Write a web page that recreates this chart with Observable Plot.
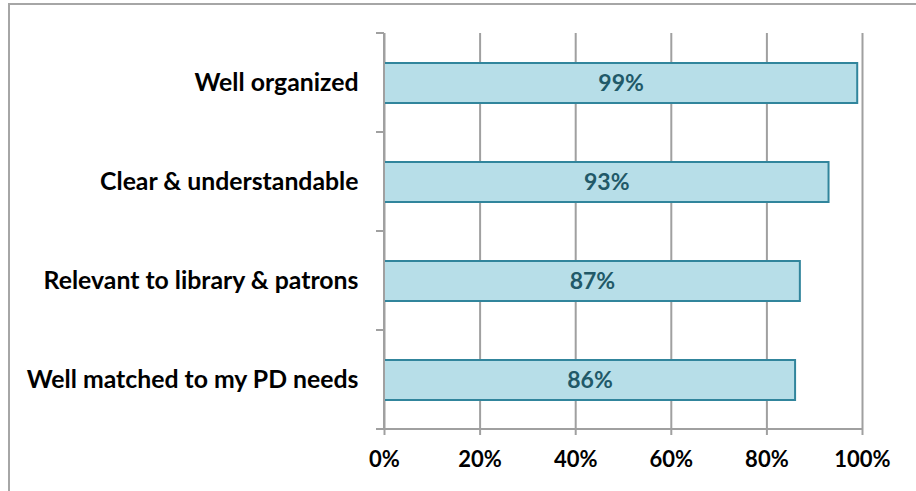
<!DOCTYPE html>
<html><head><meta charset="utf-8">
<script src="https://cdn.jsdelivr.net/npm/d3@7"></script>
<script src="https://cdn.jsdelivr.net/npm/@observablehq/plot@0.6"></script>
<style>
body{margin:0;background:#fff;}
#frame{position:absolute;left:8px;top:3px;width:1000px;height:600px;border:2px solid #a6a6a6;}
#chart{position:absolute;left:0;top:0;}
</style></head>
<body><div id="frame"></div><div id="chart"></div>
<script>
const categories = ["Well organized", "Clear & understandable", "Relevant to library & patrons", "Well matched to my PD needs"];
const values = [0.99, 0.93, 0.87, 0.86];
const xTicks = [0, 0.2, 0.4, 0.6, 0.8, 1];

const data = categories.map((c, i) => ({category: c, value: values[i]}));
const grid = "#a0a0a0";
const pct = d3.format(".0%");

function categoryAxis(index, scales, values, dims) {
  const g = d3.create("svg:g").attr("stroke", grid).attr("stroke-width", 2);
  const x0 = scales.x(0), x1 = scales.x(1);
  const top = dims.marginTop, bottom = dims.height - dims.marginBottom;
  const n = categories.length, step = (bottom - top) / n;
  g.append("line").attr("x1", x0).attr("x2", x0).attr("y1", top).attr("y2", bottom);
  g.append("line").attr("x1", x0 - 8).attr("x2", x1).attr("y1", bottom).attr("y2", bottom);
  for (let i = 0; i < n; i++) {
    const yy = top + i * step;
    g.append("line").attr("x1", x0 - 8).attr("x2", x0).attr("y1", yy).attr("y2", yy);
  }
  return g.node();
}

const chart = Plot.plot({
  width: 916, height: 491,
  marginLeft: 384, marginRight: 54, marginTop: 33, marginBottom: 62,
  style: {fontFamily: "Lato, sans-serif", fontWeight: "bold", color: "#000", background: "transparent"},
  x: {domain: [0, 1]},
  y: {domain: categories, paddingInner: 0.6, paddingOuter: 0.3},
  marks: [
    Plot.gridX(xTicks, {stroke: grid, strokeOpacity: 1, strokeWidth: 2}),
    Plot.barX(data, {x: "value", y: "category", fill: "#b7dee8", stroke: "#31859c", strokeWidth: 2}),
    Plot.text(data, {x: d => d.value / 2, y: "category", text: d => pct(d.value), fill: "#215968", fontSize: 23, fontWeight: "bold"}),
    Plot.axisY({tickSize: 0, tickPadding: 26, fontSize: 24.8, fontWeight: "bold", fill: "#000", label: null}),
    Plot.axisX({ticks: xTicks, tickFormat: pct, tickSize: 6, tickPadding: 16, stroke: grid, strokeWidth: 2, fontSize: 22, fontWeight: "bold", fill: "#000", label: null}),
    categoryAxis
  ]
});
document.getElementById("chart").append(chart);
</script>
</body></html>
